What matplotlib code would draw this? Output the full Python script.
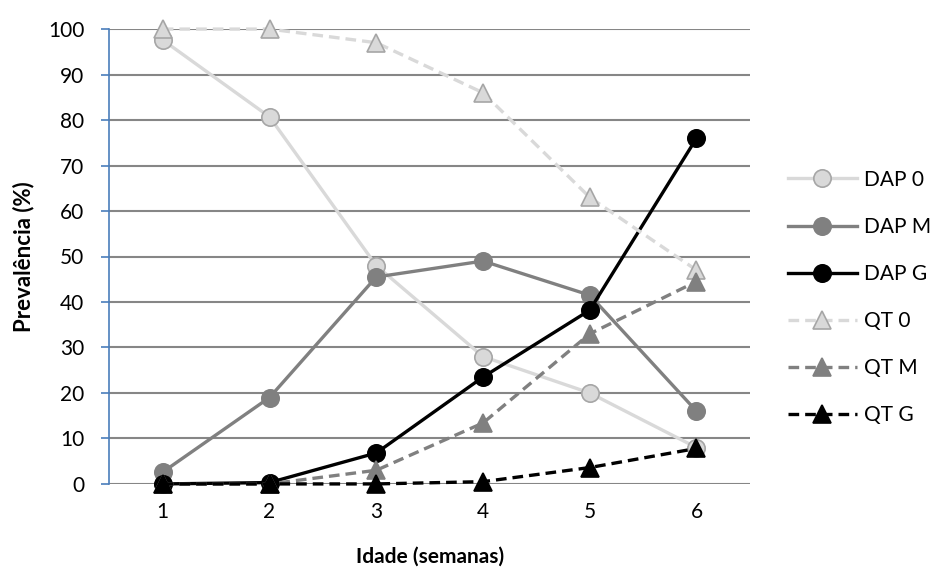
import matplotlib.pyplot as plt

plt.rcParams['font.family'] = ['Lato', 'DejaVu Sans']

# Dados
semanas = [1, 2, 3, 4, 5, 6]
dap_0 = [97.6, 80.7, 48, 28, 20, 8]
dap_m = [2.6, 19, 45.5, 49, 41.5, 16]
dap_g = [0, 0.3, 6.8, 23.5, 38.2, 76]
qt_0 = [100, 100, 97, 86, 63, 47]
qt_m = [0, 0, 3, 13.4, 33, 44.5]
qt_g = [0, 0, 0, 0.5, 3.6, 7.8]

series = [
    ("DAP 0", dap_0, "-", "o", "#d9d9d9", "#a6a6a6"),
    ("DAP M", dap_m, "-", "o", "#808080", "#808080"),
    ("DAP G", dap_g, "-", "o", "#000000", "#000000"),
    ("QT 0", qt_0, "--", "^", "#d9d9d9", "#a6a6a6"),
    ("QT M", qt_m, "--", "^", "#808080", "#808080"),
    ("QT G", qt_g, "--", "^", "#000000", "#000000"),
]

fig = plt.figure(figsize=(9.35, 5.7), dpi=100)
ax = fig.add_axes([0.117, 0.151, 0.685, 0.798])

for nome, valores, estilo, marcador, cor, borda in series:
    linha, = ax.plot(semanas, valores, linestyle=estilo, marker=marcador, color=cor,
                     markerfacecolor=cor, markeredgecolor=borda, markeredgewidth=1.2,
                     linewidth=2.4, markersize=12.5, label=nome, clip_on=False)
    if estilo == "--":
        linha.set_dashes((3.2, 1.8))

ax.set_xlim(0.5, 6.5)
ax.set_ylim(0, 100)
ax.set_yticks(range(0, 101, 10))
ax.set_xticks(semanas)
ax.yaxis.grid(True, color="#868686", linewidth=1.5)
ax.set_axisbelow(True)

for lado in ["top", "right", "bottom"]:
    ax.spines[lado].set_visible(False)
ax.spines["left"].set_color("#4a7ebb")
ax.spines["left"].set_linewidth(1.2)
ax.tick_params(axis="y", colors="#4a7ebb", length=6, width=1.2, labelsize=15,
               labelcolor="black", pad=12)
ax.tick_params(axis="x", length=0, labelsize=15, pad=13)

ax.set_xlabel("Idade (semanas)", fontsize=15, fontweight="bold", labelpad=18)
ax.set_ylabel("Prevalência (%)", fontsize=16, fontweight="bold", labelpad=10)

ax.legend(loc="center left", bbox_to_anchor=(1.03, 0.41), frameon=False,
          fontsize=15, handlelength=3.3, labelspacing=1.3, handletextpad=0.35)

plt.savefig("out.png", dpi=100)
